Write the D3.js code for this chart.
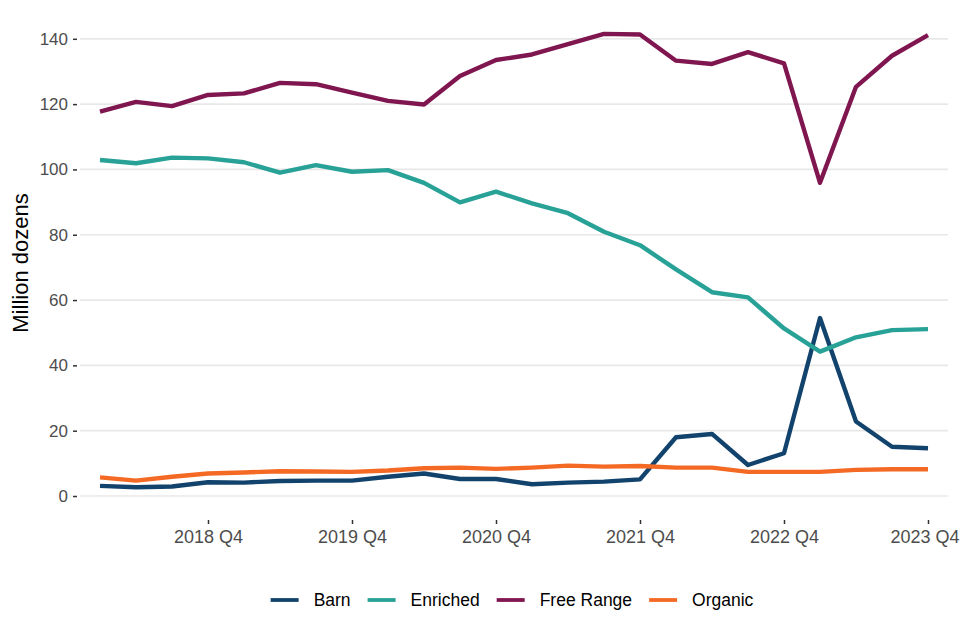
<!DOCTYPE html>
<html>
<head>
<meta charset="utf-8">
<script src="https://cdn.jsdelivr.net/npm/d3@7"></script>
<style>
  body { margin: 0; background: #fff; }
  text { font-family: 'Liberation Sans', Arial, sans-serif; }
</style>
</head>
<body>
<div id="graf"></div>
<script>
const anchoTotal = 960
const altoTotal = 640

// datos
const trimestres = [
  '2018 Q1', '2018 Q2', '2018 Q3', '2018 Q4',
  '2019 Q1', '2019 Q2', '2019 Q3', '2019 Q4',
  '2020 Q1', '2020 Q2', '2020 Q3', '2020 Q4',
  '2021 Q1', '2021 Q2', '2021 Q3', '2021 Q4',
  '2022 Q1', '2022 Q2', '2022 Q3', '2022 Q4',
  '2023 Q1', '2023 Q2', '2023 Q3', '2023 Q4'
]
const etiquetasX = ['2018 Q4', '2019 Q4', '2020 Q4', '2021 Q4', '2022 Q4', '2023 Q4']
const ticksY = [0, 20, 40, 60, 80, 100, 120, 140]

const series = ['Barn', 'Enriched', 'Free Range', 'Organic']
const colores = ['#12436D', '#28A197', '#801650', '#F46A25']

const barn = [3.1, 2.7, 2.9, 4.2, 4.1, 4.6, 4.7, 4.7, 5.9, 6.9, 5.2, 5.2,
  3.6, 4.1, 4.4, 5.1, 18.0, 19.0, 9.5, 13.1, 54.5, 22.8, 15.1, 14.6]
const enriched = [102.9, 101.9, 103.6, 103.4, 102.2, 99.0, 101.3, 99.3, 99.8, 95.9, 89.9, 93.2,
  89.6, 86.6, 80.9, 76.8, 69.4, 62.4, 60.8, 51.3, 44.2, 48.6, 50.8, 51.1]
const freeRange = [117.7, 120.7, 119.4, 122.8, 123.3, 126.5, 126.1, 123.5, 121.0, 119.9, 128.6, 133.5,
  135.2, 138.4, 141.5, 141.3, 133.3, 132.3, 135.9, 132.5, 95.9, 125.3, 134.8, 141.1]
const organic = [5.7, 4.7, 5.9, 6.9, 7.2, 7.6, 7.5, 7.4, 7.8, 8.5, 8.7, 8.3,
  8.7, 9.3, 9.0, 9.2, 8.7, 8.7, 7.4, 7.4, 7.4, 8.0, 8.2, 8.2]

const valores = [barn, enriched, freeRange, organic]

const svg = d3.select('#graf')
  .append('svg')
  .attr('width', anchoTotal)
  .attr('height', altoTotal)

const panel = { left: 80, right: 948 }

const x = d3.scalePoint()
  .domain(trimestres)
  .range([100, 928])

const y = d3.scaleLinear()
  .domain([0, 140])
  .range([496, 38.8])

const color = d3.scaleOrdinal()
  .domain(series)
  .range(colores)

// lineas de cuadricula
svg.append('g')
  .selectAll('line')
  .data(ticksY)
  .join('line')
    .attr('x1', panel.left)
    .attr('x2', panel.right)
    .attr('y1', d => y(d))
    .attr('y2', d => y(d))
    .attr('stroke', '#e8e8e8')
    .attr('stroke-width', 1.7)

// ejes
const yAxisGroup = svg.append('g')
  .attr('transform', 'translate(77, 0)')
  .call(d3.axisLeft(y).tickValues(ticksY).tickSize(4).tickPadding(5))
yAxisGroup.select('.domain').remove()
yAxisGroup.selectAll('line').attr('stroke', '#333').attr('stroke-width', 1.5)
yAxisGroup.selectAll('text')
  .attr('fill', '#4d4d4d')
  .style('font-size', '17px')

const xAxisGroup = svg.append('g')
  .attr('transform', 'translate(0, 520)')
  .call(d3.axisBottom(x).tickValues(etiquetasX).tickSize(4).tickPadding(6))
xAxisGroup.select('.domain').remove()
xAxisGroup.selectAll('line').attr('stroke', '#333').attr('stroke-width', 1.5)
xAxisGroup.selectAll('text')
  .attr('fill', '#4d4d4d')
  .style('font-size', '18px')

// la ultima etiqueta queda pegada al borde derecho
xAxisGroup.selectAll('.tick')
  .filter(d => d === etiquetasX[etiquetasX.length - 1])
  .select('text')
    .attr('text-anchor', 'end')
    .attr('x', anchoTotal - 1 - x(etiquetasX[etiquetasX.length - 1]))

svg.append('text')
  .attr('transform', 'translate(28, 263) rotate(-90)')
  .attr('text-anchor', 'middle')
  .attr('fill', '#000')
  .style('font-size', '22px')
  .text('Million dozens')

// lineas
const linea = d3.line()
  .x((d, i) => x(trimestres[i]))
  .y(d => y(d))

svg.append('g')
  .selectAll('path')
  .data(series)
  .join('path')
    .attr('d', (d, i) => linea(valores[i]))
    .attr('fill', 'none')
    .attr('stroke', d => color(d))
    .attr('stroke-width', 4.4)
    .attr('stroke-linejoin', 'round')

// leyenda
const leyenda = svg.append('g')
const items = leyenda.selectAll('g')
  .data(series)
  .join('g')

items.append('line')
  .attr('x1', 0)
  .attr('x2', 28)
  .attr('y1', 0)
  .attr('y2', 0)
  .attr('stroke', d => color(d))
  .attr('stroke-width', 3.8)

items.append('text')
  .attr('x', 43)
  .attr('dy', '0.35em')
  .attr('fill', '#000')
  .style('font-size', '17.5px')
  .text(d => d)

let pos = 0
const posiciones = []
items.each(function () {
  posiciones.push(pos)
  const w = d3.select(this).select('text').node().getComputedTextLength()
  pos += 43 + w + 17
})
const anchoLeyenda = pos - 17
const inicio = 512 - anchoLeyenda / 2
items.attr('transform', (d, i) => `translate(${inicio + posiciones[i]}, 600)`)
</script>
</body>
</html>
